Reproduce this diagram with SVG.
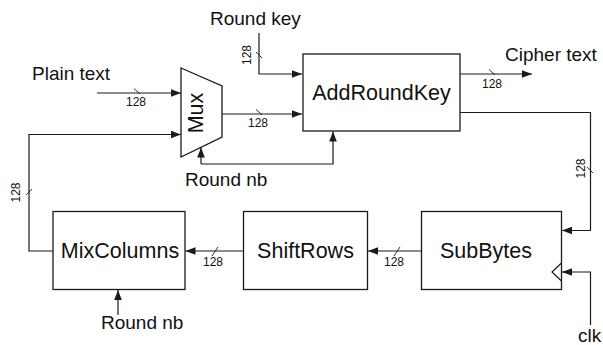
<svg xmlns="http://www.w3.org/2000/svg" width="603" height="345" viewBox="0 0 603 345">
  <defs>
    <marker id="arrow" markerUnits="userSpaceOnUse" markerWidth="10" markerHeight="10" viewBox="0 0 10 10" refX="10" refY="5" orient="auto">
      <path d="M0,1.2 L10,5 L0,8.8 Z" fill="#1a1a1a"/>
    </marker>
    <style>
      .box { fill: #ffffff; stroke: #1a1a1a; stroke-width: 1.3; }
      .wire { fill: none; stroke: #1a1a1a; stroke-width: 1.2; }
      .tick { fill: none; stroke: #1a1a1a; stroke-width: 0.9; }
      .blk { font-family: "Liberation Sans", Arial, sans-serif; font-size: 21.5px; fill: #111; text-anchor: middle; }
      .lbl { font-family: "Liberation Sans", Arial, sans-serif; font-size: 19px; fill: #111; }
      .bus { font-family: "Liberation Sans", Arial, sans-serif; font-size: 12px; fill: #111; text-anchor: middle; }
    </style>
  </defs>
  <rect width="603" height="345" fill="#ffffff"/>

  <!-- external labels -->
  <g id="labels">
    <text class="lbl" x="210" y="25">Round key</text>
    <text class="lbl" x="32" y="80">Plain text</text>
    <text class="lbl" x="505" y="61">Cipher text</text>
    <text class="lbl" x="185" y="186">Round nb</text>
    <text class="lbl" x="101" y="329">Round nb</text>
    <text class="lbl" x="578" y="342">clk</text>
  </g>

  <!-- blocks -->
  <g id="mux">
    <path class="box" d="M181,68 L222,86 L222,137 L181,157 Z"/>
    <text class="blk" transform="translate(203,113) rotate(-90)" x="0" y="0">Mux</text>
  </g>
  <g id="addroundkey">
    <rect class="box" x="303" y="54" width="157" height="77"/>
    <text class="blk" x="381.5" y="100">AddRoundKey</text>
  </g>
  <g id="mixcolumns">
    <rect class="box" x="53" y="211.5" width="132" height="78"/>
    <text class="blk" x="120" y="258">MixColumns</text>
  </g>
  <g id="shiftrows">
    <rect class="box" x="243.5" y="211.5" width="124" height="78"/>
    <text class="blk" x="305.5" y="258">ShiftRows</text>
  </g>
  <g id="subbytes">
    <rect class="box" x="421.5" y="211.5" width="140" height="78"/>
    <text class="blk" x="486" y="258">SubBytes</text>
    <path class="wire" d="M561.5,263 L552,272 L561.5,281"/>
  </g>

  <!-- connectors -->
  <g id="connectors">
    <path class="wire" d="M259,33 V74 H302" marker-end="url(#arrow)"/>
    <path class="wire" d="M97,93 H181" marker-end="url(#arrow)"/>
    <path class="wire" d="M222,114 H302" marker-end="url(#arrow)"/>
    <path class="wire" d="M460,74 H532" marker-end="url(#arrow)"/>
    <path class="wire" d="M201,164 V147.5" marker-end="url(#arrow)"/>
    <path class="wire" d="M201,164 H333 V131.5" marker-end="url(#arrow)"/>
    <path class="wire" d="M460,112.5 H590.5 V230.5 H562" marker-end="url(#arrow)"/>
    <path class="wire" d="M590.5,325 V272 H562" marker-end="url(#arrow)"/>
    <path class="wire" d="M421.5,251 H368" marker-end="url(#arrow)"/>
    <path class="wire" d="M243.5,251 H185.5" marker-end="url(#arrow)"/>
    <path class="wire" d="M53,251 H29 V134.5 H181" marker-end="url(#arrow)"/>
    <path class="wire" d="M118,315 V290" marker-end="url(#arrow)"/>

    <!-- bus width ticks -->
    <path class="tick" d="M256,52 L262,58"/>
    <path class="tick" d="M134,88.5 L140,94"/>
    <path class="tick" d="M256,109.5 L262,115"/>
    <path class="tick" d="M489,69.5 L495,75"/>
    <path class="tick" d="M587,167 L593,173"/>
    <path class="tick" d="M394,256 L400,247"/>
    <path class="tick" d="M212,256 L218,247"/>
    <path class="tick" d="M26,195 L32,189"/>

    <!-- bus widths -->
    <text class="bus" x="136" y="106">128</text>
    <text class="bus" x="258" y="127">128</text>
    <text class="bus" x="492" y="88">128</text>
    <text class="bus" x="213" y="266">128</text>
    <text class="bus" x="394" y="266">128</text>
    <text class="bus" transform="translate(250.5,55) rotate(-90)">128</text>
    <text class="bus" transform="translate(585,168.5) rotate(-90)">128</text>
    <text class="bus" transform="translate(20,192.5) rotate(-90)">128</text>
  </g>
</svg>
